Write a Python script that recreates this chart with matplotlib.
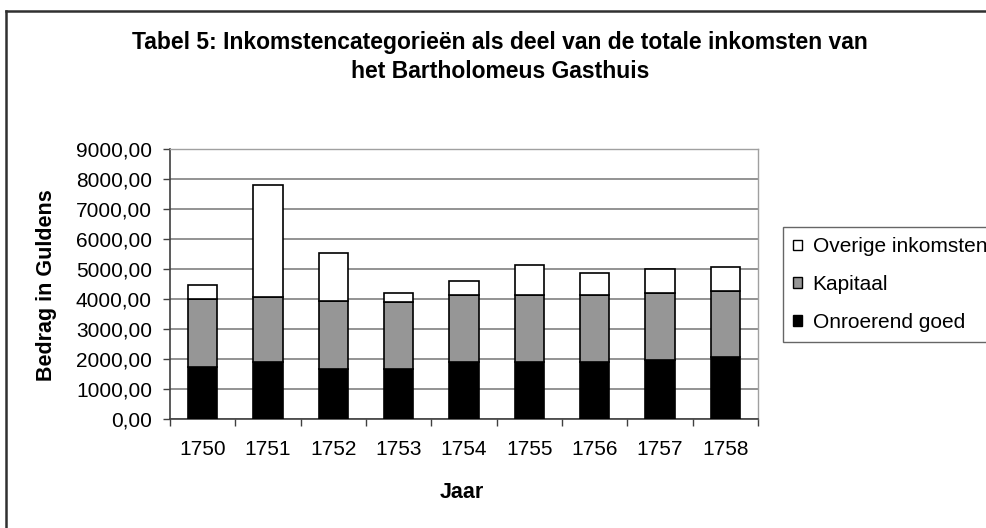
import matplotlib
matplotlib.use("Agg")
import matplotlib.pyplot as plt
from matplotlib.patches import Patch
from matplotlib.lines import Line2D
import numpy as np

plt.rcParams['font.family'] = ['Liberation Sans', 'DejaVu Sans']

years = ["1750", "1751", "1752", "1753", "1754", "1755", "1756", "1757", "1758"]
onroerend = [1745, 1890, 1680, 1680, 1890, 1890, 1890, 1955, 2080]
kapitaal = [2255, 2190, 2255, 2220, 2245, 2245, 2245, 2235, 2190]
overige = [465, 3730, 1590, 300, 465, 1000, 735, 820, 800]

fig = plt.figure(figsize=(9.86, 5.28), dpi=100)
ax = fig.add_axes([170/986, 1-419/528, (758-170)/986, (419-149)/528])

x = np.arange(len(years))
w = 0.45
ec = 'black'
lw = 1.2
ax.bar(x, onroerend, w, color='black', edgecolor=ec, linewidth=lw, zorder=3)
bottom2 = np.array(onroerend)
ax.bar(x, kapitaal, w, bottom=bottom2, color='#969696', edgecolor=ec, linewidth=lw, zorder=3)
bottom3 = bottom2 + np.array(kapitaal)
ax.bar(x, overige, w, bottom=bottom3, color='white', edgecolor=ec, linewidth=lw, zorder=3)

ax.set_xlim(-0.5, len(years) - 0.5)
ax.set_ylim(0, 9000)
ax.set_yticks(np.arange(0, 9001, 1000))
ax.set_yticklabels([f"{v},00" for v in range(0, 9001, 1000)], fontsize=15)
ax.set_xticks(x)
ax.set_xticklabels(years, fontsize=15)
ax.set_xticks(np.arange(-0.5, len(years), 1.0), minor=True)
ax.tick_params(axis='x', which='major', length=0, pad=15)
ax.tick_params(axis='x', which='minor', length=5, width=1, color='#404040', direction='out')
ax.tick_params(axis='y', length=5, width=1, color='#404040', direction='out', pad=8)
ax.yaxis.grid(True, color='#808080', linewidth=1.2, zorder=0)
ax.set_axisbelow(True)
for s in ['top', 'right']:
    ax.spines[s].set_color('#a0a0a0')
    ax.spines[s].set_linewidth(1.0)
for s in ['left', 'bottom']:
    ax.spines[s].set_color('#404040')
    ax.spines[s].set_linewidth(1.2)

ax.set_ylabel("Bedrag in Guldens", fontsize=15.5, fontweight='bold', va='center')
ax.yaxis.set_label_coords((47-170)/588, (419-285.5)/270)
ax.set_xlabel("Jaar", fontsize=15.5, fontweight='bold', va='center')
ax.xaxis.set_label_coords((462-170)/588, (419-493)/270)

fig.text(500/986, 1-42/528, "Tabel 5: Inkomstencategorieën als deel van de totale inkomsten van",
         ha='center', va='center', fontsize=16.5, fontweight='bold')
fig.text(500/986, 1-72/528, "het Bartholomeus Gasthuis",
         ha='center', va='center', fontsize=16.5, fontweight='bold')

handles = [Patch(facecolor='white', edgecolor='black', linewidth=1),
           Patch(facecolor='#969696', edgecolor='black', linewidth=1),
           Patch(facecolor='black', edgecolor='black', linewidth=1)]
labels = ["Overige inkomsten", "Kapitaal", "Onroerend goed"]
leg = fig.legend(handles, labels, loc='upper left', bbox_to_anchor=(783/986, 1-227/528),
                 fontsize=15, frameon=True, fancybox=False, handlelength=0.42, handleheight=0.42,
                 handletextpad=0.5, labelspacing=0.9, borderpad=0.5, borderaxespad=0)
leg.get_frame().set_edgecolor('#404040')
leg.get_frame().set_linewidth(1.0)

fig.add_artist(Line2D([6/986, 6/986], [0, 1-11/528], transform=fig.transFigure,
                      color='#303030', linewidth=1.8))
fig.add_artist(Line2D([6/986, 1], [1-11/528, 1-11/528], transform=fig.transFigure,
                      color='#303030', linewidth=1.8))

fig.savefig("out.png", dpi=100)
